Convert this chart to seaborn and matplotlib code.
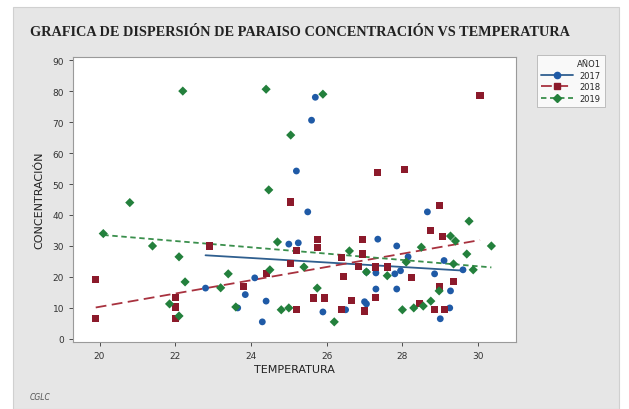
import pandas as pd
import numpy as np
import seaborn as sns
import matplotlib.pyplot as plt
from matplotlib.lines import Line2D
from matplotlib.patches import Rectangle

# datos (temperatura, concentracion) por año
temp_2017 = [22.8, 25.7, 25.6, 25.2, 25.5, 25.0, 25.25, 24.1, 23.85, 24.4, 23.65, 25.9,
             26.5, 24.3, 27.0, 28.66, 27.35, 27.85, 28.15, 29.1, 29.6, 27.05, 27.3, 27.8,
             27.95, 28.85, 29.27, 27.3, 27.85, 29.25, 29.0, 27.05]
conc_2017 = [16.4, 78.0, 70.6, 54.2, 41.0, 30.6, 31.0, 19.7, 14.3, 12.2, 10.0, 8.7,
             9.4, 5.5, 12.0, 41.0, 32.2, 30.0, 26.5, 25.3, 22.3, 21.6, 21.3, 21.0,
             22.0, 21.0, 15.5, 16.1, 16.1, 10.0, 6.5, 11.3]

temp_2018 = [19.9, 19.9, 22.9, 22.0, 22.0, 22.0, 25.05, 25.75, 25.75, 25.2, 26.4, 26.95,
             26.95, 26.85, 25.05, 24.4, 23.8, 26.45, 25.2, 25.65, 25.95, 26.65, 26.4, 27.0,
             30.05, 27.35, 28.05, 28.97, 28.75, 29.05, 27.3, 27.6, 28.25, 29.35, 28.97, 27.3,
             28.45, 28.85, 29.1]
conc_2018 = [19.3, 6.5, 30.0, 13.5, 10.3, 6.5, 44.2, 32.2, 29.6, 28.4, 26.4, 32.2,
             27.4, 23.5, 24.2, 21.0, 16.8, 20.0, 9.4, 13.2, 13.2, 12.3, 9.4, 9.0,
             78.7, 53.8, 54.8, 43.0, 35.0, 33.0, 23.2, 23.2, 19.7, 18.4, 16.8, 13.5,
             11.3, 9.4, 9.4]

temp_2019 = [20.1, 20.8, 21.4, 22.2, 22.1, 22.26, 21.85, 22.1, 23.2, 24.4, 25.9, 25.05,
             24.47, 24.7, 26.6, 24.5, 23.4, 25.75, 23.6, 24.8, 25.0, 26.2, 27.05, 25.4,
             29.76, 29.27, 29.4, 30.35, 28.5, 29.7, 28.1, 29.35, 29.87, 27.6, 28.97, 28.0,
             28.3, 28.75, 28.55]
conc_2019 = [34.0, 44.0, 30.0, 80.0, 26.5, 18.4, 11.3, 7.4, 16.5, 80.6, 79.0, 65.8,
             48.1, 31.3, 28.4, 22.3, 21.0, 16.4, 10.3, 9.4, 10.0, 5.5, 21.6, 23.2,
             38.0, 33.2, 31.6, 30.0, 29.6, 27.4, 24.8, 24.2, 22.3, 20.4, 15.5, 9.4,
             10.0, 12.2, 10.6]

años = ['2017', '2018', '2019']
x_ticks = [20, 22, 24, 26, 28, 30]
y_ticks = [0, 10, 20, 30, 40, 50, 60, 70, 80, 90]

df = pd.concat([
    pd.DataFrame({'TEMPERATURA': temp_2017, 'CONCENTRACION': conc_2017, 'AÑO1': '2017'}),
    pd.DataFrame({'TEMPERATURA': temp_2018, 'CONCENTRACION': conc_2018, 'AÑO1': '2018'}),
    pd.DataFrame({'TEMPERATURA': temp_2019, 'CONCENTRACION': conc_2019, 'AÑO1': '2019'}),
])

colores = {'2017': '#1f5aa6', '2018': '#8c1a2b', '2019': '#23803c'}
col_linea = {'2017': '#2f5f8f', '2018': '#a8323f', '2019': '#3a8f4c'}
marcadores = {'2017': 'o', '2018': 's', '2019': 'D'}
tam = {'2017': 24, '2018': 26, '2019': 22}
estilos = {'2017': '-', '2018': (0, (6, 3)), '2019': (0, (3, 2))}

sns.set_theme(style="white")
plt.rcParams['font.family'] = ['DejaVu Sans']

fig = plt.figure(figsize=(6.29, 4.10), dpi=100)
fig.patch.set_facecolor('white')
fig.patches.append(Rectangle((13 / 629, 0), 606 / 629, 1 - 8 / 410, transform=fig.transFigure,
                             facecolor='#e6e6e6', edgecolor='#d0d0d0', lw=0.8, zorder=-10))

ax = fig.add_axes([73 / 629, 1 - 343 / 410, 443 / 629, 285 / 410])
ax.set_facecolor('white')

for a in años:
    d = df[df['AÑO1'] == a]
    sns.regplot(data=d, x='TEMPERATURA', y='CONCENTRACION', ax=ax, ci=None,
                marker=marcadores[a],
                scatter_kws={'s': tam[a], 'color': colores[a], 'edgecolor': 'none',
                             'alpha': 1, 'zorder': 3},
                line_kws={'color': col_linea[a], 'lw': 1.3, 'linestyle': estilos[a], 'zorder': 2})

ax.set_xlim(19.3, 31.0)
ax.set_ylim(-1, 91)
ax.set_xticks(x_ticks)
ax.set_yticks(y_ticks)
ax.tick_params(axis='both', labelsize=6.5, colors='#333333', length=3, width=0.6, direction='out')
ax.tick_params(axis='both', which='both', bottom=True, left=True)
for s in ax.spines.values():
    s.set_color('#9a9a9a')
    s.set_linewidth(0.8)

ax.set_xlabel('TEMPERATURA', fontsize=8, color='#222222', labelpad=3)
ax.set_ylabel('CONCENTRACIÓN', fontsize=8, color='#222222', labelpad=6)

handles = [Line2D([0], [0], color=col_linea[a], linestyle=estilos[a], lw=1.3,
                  marker=marcadores[a], markersize=4.5, markerfacecolor=colores[a],
                  markeredgecolor=colores[a]) for a in años]
leg = fig.legend(handles, años, title='AÑO1', loc='upper left',
                 bbox_to_anchor=(533 / 629, 1 - 52 / 410), fontsize=6, title_fontsize=6,
                 frameon=True, fancybox=False, edgecolor='#b0b0b0', handlelength=3.8,
                 borderpad=0.5, labelspacing=0.3, alignment='right')
leg.get_frame().set_linewidth(0.7)

fig.text(30 / 629, 1 - 33 / 410, 'GRAFICA DE DISPERSIÓN DE PARAISO CONCENTRACIÓN VS TEMPERATURA',
         family='Liberation Serif', fontweight='bold', fontsize=10.3, color='#222222',
         ha='left', va='center')
fig.text(30 / 629, 1 - 398 / 410, 'CGLC', fontsize=5.5, style='italic', color='#555555',
         ha='left', va='center')

plt.savefig('out.png', dpi=100)
